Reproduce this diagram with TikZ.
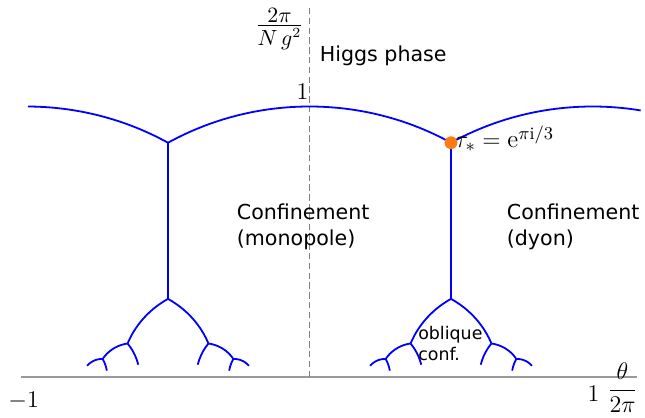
\documentclass[tikz,border=0pt]{standalone}
\usepackage{fontspec}
\usepackage{amsmath}
\newfontfamily\dejavu{DejaVu Sans}
\definecolor{dotorange}{HTML}{FF7A10}
\newcommand\tightfrac[2]{\vbox{\halign{\hfil##\hfil\cr$#1$\cr\noalign{\kern1.2pt\hrule height0.45pt\kern1.6pt}$#2$\cr}}}
\begin{document}
\begin{tikzpicture}[x=141.5pt,y=135.25pt,
  tree/.style={draw=blue, line width=0.9pt},
  vedge/.style={draw=blue, line width=1pt},
  axisline/.style={draw=gray!80, line width=1pt},
  zeroline/.style={draw=gray, line width=0.8pt, dash pattern=on 3.2pt off 1.7pt},
  phaselabel/.style={font=\dejavu\fontsize{10.3}{13}\selectfont, align=left, inner sep=0pt, anchor=base west},
  smalllabel/.style={font=\dejavu\fontsize{8.7}{10.4}\selectfont, align=left, inner sep=0pt, anchor=base west},
  mathlabel/.style={font=\fontsize{12}{14}\selectfont, inner sep=0pt}]
\useasboundingbox (-1.0937,-0.1516) rectangle (1.1855,1.3937);

% axes
\coordinate (axL) at (-1.018,0);
\coordinate (axR) at (1.1555,0);
\coordinate (zB) at (0,0);
\coordinate (zT) at (0,1.364);
\draw[axisline] (axL) -- (axR);
\draw[zeroline] (zB) -- (zT);

% vertices
\coordinate (rho) at (0.5,0.866025);
\coordinate (rhoL) at (-0.5,0.866025);
\coordinate (vR) at (0.5,0.288675);
\coordinate (vL) at (-0.5,0.288675);

% top arcs
\draw[tree] plot[domain=60:120, samples=60, variable=\t] ({cos(\t)},{sin(\t)});
\draw[tree] plot[domain=60:89.7, samples=40, variable=\t] ({-1+cos(\t)},{sin(\t)});
\draw[tree] plot[domain=80.2:120, samples=40, variable=\t] ({1+cos(\t)},{sin(\t)});

% vertical edges
\draw[vedge] (rho) -- (vR);
\draw[vedge] (rhoL) -- (vL);

% lower tree
\foreach \s in {0,-1}{
  \foreach \c/\r/\a/\b in {0.666667/0.333333/120/158.21, 0.333333/0.333333/60/21.79,
      0.375/0.125/98.21/147.80, 0.625/0.125/81.79/32.20,
      0.2/0.2/38.21/13.17, 0.8/0.2/141.79/166.83,
      0.266667/0.066667/87.80/141.79, 0.733333/0.066667/92.20/38.21,
      0.142857/0.142857/27.79/9.43, 0.857143/0.142857/152.21/170.57}{
    \draw[tree] plot[domain=\a:\b, samples=40, variable=\t] ({\s+\c+\r*cos(\t)},{\r*sin(\t)});
  }
}

% special point
\node[mathlabel, font=\fontsize{12.5}{14}\selectfont, anchor=base west] (taulab) at (0.514,0.8466) {$\tau_* = \mathrm{e}^{\pi\mathrm{i}/3}$};
\node[circle, fill=dotorange, inner sep=0pt, minimum size=6.4pt] (dot) at (rho) {};

% labels
\node[phaselabel] (higgs) at (0.035,1.1656) {Higgs phase};
\node[phaselabel] (monopole) at (-0.258,0.487) {Confinement\\(monopole)};
\node[phaselabel] (dyon) at (0.696,0.487) {Confinement\\(dyon)};
\node[smalllabel] (oblique) at (0.383,0.0628) {oblique\\conf.};

\node[mathlabel, font=\fontsize{10.5}{12}\selectfont] (ylab) at (-0.106,1.286) {\tightfrac{2\pi}{N\,g^{2}}};
\node[mathlabel, anchor=base east] (one) at (-0.003,1.024) {$1$};
\node[mathlabel, anchor=base] (mone) at (-1.010,-0.1146) {$-1$};
\node[mathlabel, anchor=base] (pone) at (1.0035,-0.0924) {$1$};
\node[mathlabel] (xlab) at (1.106,-0.0407) {$\dfrac{\theta}{2\pi}$};
\end{tikzpicture}
\end{document}
